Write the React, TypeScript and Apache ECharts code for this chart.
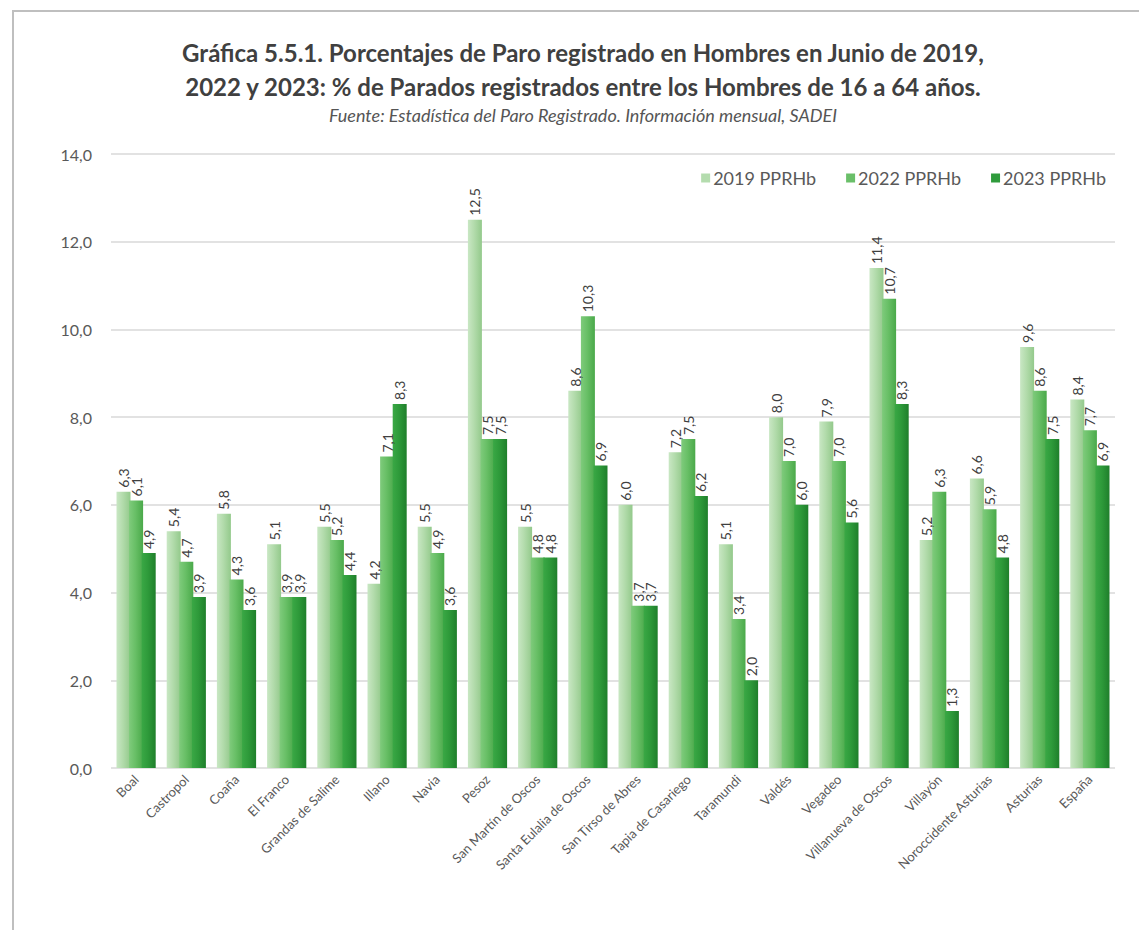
import React, { useEffect, useRef } from "react";
import * as echarts from "echarts";

const categories = [
  "Boal", "Castropol", "Coaña", "El Franco", "Grandas de Salime", "Illano", "Navia", "Pesoz",
  "San Martín de Oscos", "Santa Eulalia de Oscos", "San Tirso de Abres", "Tapia de Casariego",
  "Taramundi", "Valdés", "Vegadeo", "Villanueva de Oscos", "Villayón", "Noroccidente Asturias",
  "Asturias", "España",
];
const v2019 = [6.3, 5.4, 5.8, 5.1, 5.5, 4.2, 5.5, 12.5, 5.5, 8.6, 6.0, 7.2, 5.1, 8.0, 7.9, 11.4, 5.2, 6.6, 9.6, 8.4];
const v2022 = [6.1, 4.7, 4.3, 3.9, 5.2, 7.1, 4.9, 7.5, 4.8, 10.3, 3.7, 7.5, 3.4, 7.0, 7.0, 10.7, 6.3, 5.9, 8.6, 7.7];
const v2023 = [4.9, 3.9, 3.6, 3.9, 4.4, 8.3, 3.6, 7.5, 4.8, 6.9, 3.7, 6.2, 2.0, 6.0, 5.6, 8.3, 1.3, 4.8, 7.5, 6.9];
const seriesNames = ["2019 PPRHb", "2022 PPRHb", "2023 PPRHb"];
const yTicks = { min: 0, max: 14, interval: 2 };

const fmt = (v: number) => v.toFixed(1).replace(".", ",");

function grad(l: string, c: string, r: string) {
  return new echarts.graphic.LinearGradient(0, 0, 1, 0, [
    { offset: 0, color: l },
    { offset: 0.45, color: c },
    { offset: 1, color: r },
  ]);
}

export default function App() {
  const ref = useRef<HTMLDivElement>(null);
  useEffect(() => {
    document.body.style.margin = "0";
    const chart = echarts.init(ref.current!, null, { renderer: "svg" });
    const colors = [
      ["#c9e7c4", "#b2dbab", "#93c98b"],
      ["#7fcb7c", "#68bf66", "#4aa94a"],
      ["#3aa845", "#2e9a3a", "#1f7f2b"],
    ];
    const legendColors = ["#b4dcae", "#6abf69", "#2f9b3c"];
    const data = [v2019, v2022, v2023];
    chart.setOption({
      animation: false,
      backgroundColor: "#ffffff",
      textStyle: { fontFamily: "Lato, 'Open Sans', sans-serif" },
      title: [
        {
          text: "Gráfica 5.5.1. Porcentajes de Paro registrado en Hombres en Junio de 2019,\n2022 y 2023: % de Parados registrados entre los Hombres de 16 a 64 años.",
          left: 578,
          top: 30,
          textAlign: "center",
          textStyle: {
            fontSize: 24,
            fontWeight: "bold",
            color: "#404040",
            lineHeight: 34,
            fontFamily: "Lato, sans-serif",
          },
        },
        {
          text: "Fuente: Estadística del Paro Registrado. Información mensual, SADEI",
          left: 578,
          top: 101,
          textAlign: "center",
          textStyle: {
            fontSize: 18,
            fontStyle: "italic",
            fontWeight: "normal",
            color: "#555555",
            fontFamily: "Lato, sans-serif",
          },
        },
      ],
      graphic: [
        {
          type: "rect",
          shape: { x: 13, y: 11, width: 1140, height: 930 },
          style: { fill: "none", stroke: "#bfbfbf", lineWidth: 2 },
          silent: true,
        },
      ],
      legend: {
        right: 28,
        top: 164,
        itemWidth: 9,
        itemHeight: 9,
        itemGap: 30,
        icon: "rect",
        data: seriesNames.map((n, i) => ({ name: n, itemStyle: { color: legendColors[i] } })),
        textStyle: { fontSize: 18, color: "#595959", fontFamily: "Lato, sans-serif", padding: [0, 0, 0, -2] },
      },
      grid: { left: 111, right: 24, top: 154, bottom: 162, containLabel: false },
      xAxis: {
        type: "category",
        data: categories,
        axisLine: { show: false },
        axisTick: { show: false },
        axisLabel: {
          interval: 0,
          rotate: 45,
          color: "#595959",
          fontSize: 13,
          margin: 9,
        },
      },
      yAxis: {
        type: "value",
        min: yTicks.min,
        max: yTicks.max,
        interval: yTicks.interval,
        axisLine: { show: false },
        axisTick: { show: false },
        splitLine: { lineStyle: { color: "#d9d9d9", width: 1.5 } },
        axisLabel: {
          formatter: (v: number) => fmt(v),
          color: "#595959",
          fontSize: 16,
          margin: 19,
        },
      },
      series: data.map((d, i) => ({
        name: seriesNames[i],
        type: "bar",
        data: d,
        barWidth: 14,
        barGap: "-10%",
        itemStyle: { color: grad(colors[i][0], colors[i][1], colors[i][2]) },
        label: {
          show: true,
          position: "top",
          rotate: 90,
          align: "left",
          verticalAlign: "middle",
          distance: 4,
          formatter: (p: any) => fmt(p.value),
          color: "#404040",
          fontSize: 14,
        },
      })),
    });
    return () => chart.dispose();
  }, []);
  return <div ref={ref} style={{ width: 1139, height: 930 }} />;
}
